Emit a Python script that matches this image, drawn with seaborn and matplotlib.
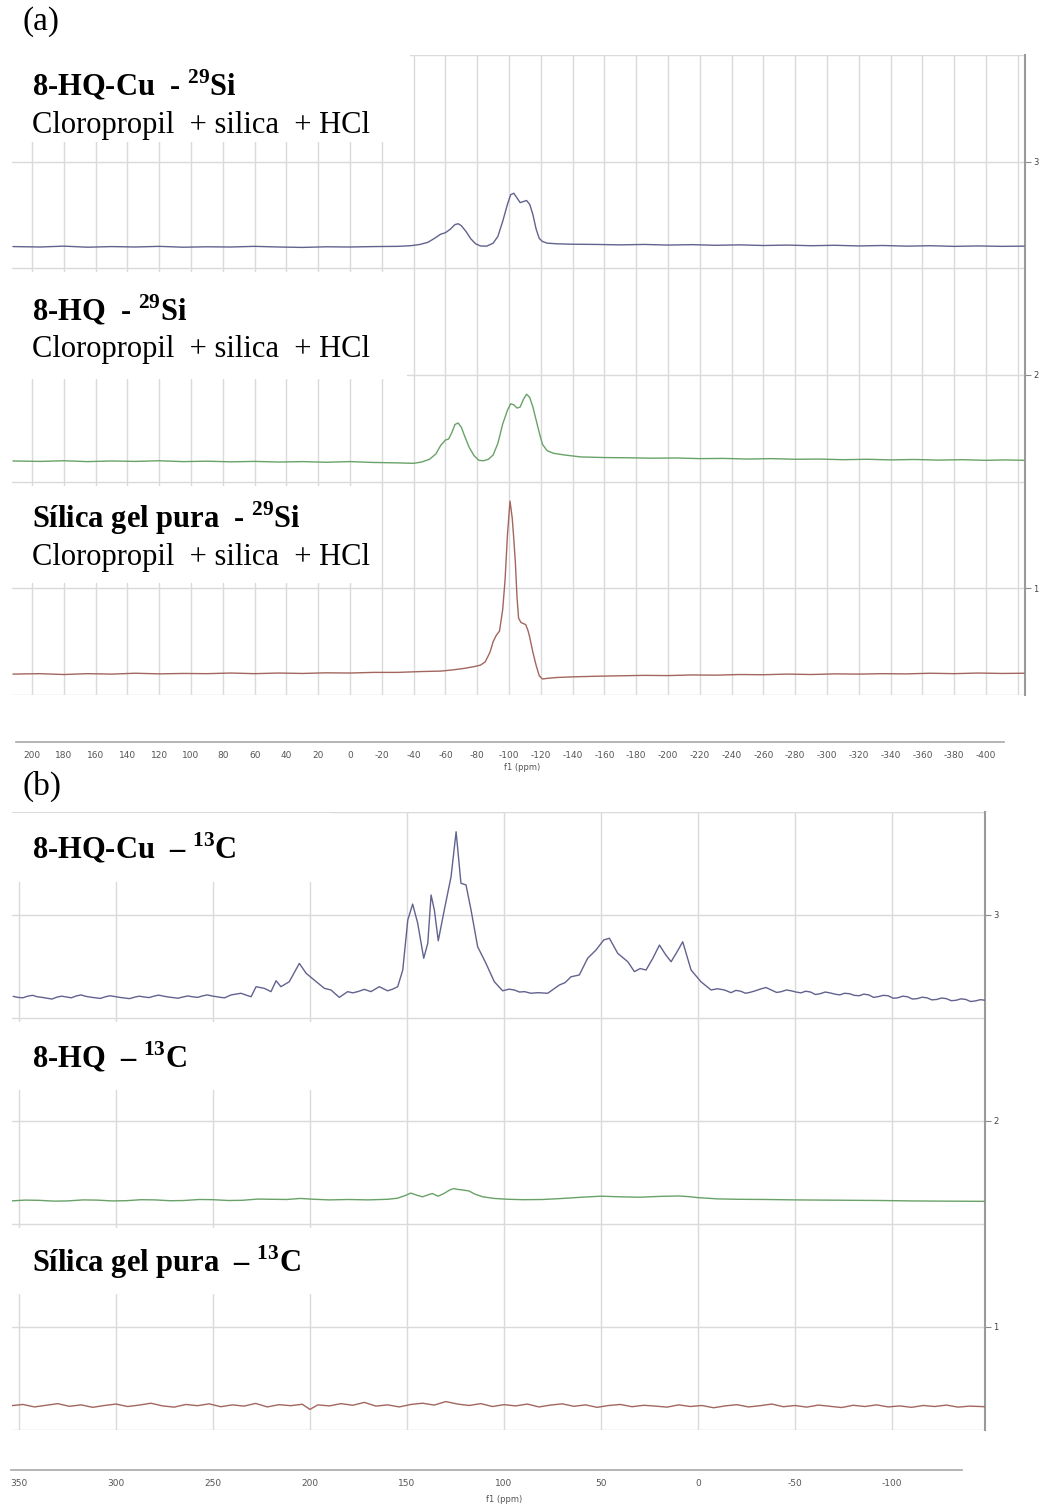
import numpy as np
import pandas as pd
import matplotlib
matplotlib.use("Agg")
import matplotlib.pyplot as plt
import seaborn as sns
from matplotlib.patches import Rectangle
from matplotlib.ticker import FixedLocator

# ---------------------------------------------------------------- data
# 29Si CP-MAS spectra, (ppm, stacked intensity)
SI_CU = [(212, 2.602), (195, 2.600), (180, 2.604), (165, 2.599), (150, 2.602),
         (135, 2.600), (120, 2.603), (105, 2.599), (90, 2.601), (75, 2.600),
         (60, 2.603), (45, 2.600), (30, 2.598), (15, 2.601), (0, 2.600),
         (-15, 2.602), (-30, 2.603), (-38, 2.606), (-44, 2.612), (-49, 2.622),
         (-53, 2.640), (-57, 2.660), (-60, 2.667), (-63, 2.683), (-66, 2.705),
         (-68, 2.709), (-70, 2.700), (-73, 2.672), (-76, 2.638), (-79, 2.615),
         (-82, 2.605), (-86, 2.604), (-90, 2.618), (-93, 2.650), (-96, 2.720),
         (-99, 2.800), (-101, 2.845), (-103, 2.852), (-105, 2.830), (-107, 2.808),
         (-109, 2.813), (-111, 2.818), (-113, 2.800), (-115, 2.752), (-117, 2.685),
         (-119, 2.640), (-121, 2.626), (-124, 2.618), (-130, 2.615), (-140, 2.613),
         (-155, 2.612), (-170, 2.610), (-185, 2.612), (-200, 2.609), (-215, 2.611),
         (-230, 2.608), (-245, 2.610), (-260, 2.607), (-275, 2.609), (-290, 2.606),
         (-305, 2.608), (-320, 2.605), (-335, 2.607), (-350, 2.604), (-365, 2.606),
         (-380, 2.603), (-395, 2.605), (-410, 2.603), (-424, 2.604)]

SI_HQ = [(212, 1.597), (195, 1.595), (180, 1.598), (165, 1.594), (150, 1.597),
         (135, 1.595), (120, 1.598), (105, 1.594), (90, 1.596), (75, 1.593),
         (60, 1.595), (45, 1.592), (30, 1.594), (15, 1.591), (0, 1.594),
         (-15, 1.590), (-30, 1.588), (-40, 1.586), (-45, 1.592), (-50, 1.605),
         (-54, 1.630), (-57, 1.670), (-60, 1.695), (-62, 1.700), (-64, 1.730),
         (-66, 1.768), (-68, 1.775), (-70, 1.755), (-72, 1.715), (-75, 1.660),
         (-78, 1.622), (-81, 1.600), (-84, 1.598), (-87, 1.605), (-90, 1.625),
         (-93, 1.680), (-96, 1.770), (-99, 1.835), (-101, 1.865), (-103, 1.860),
         (-105, 1.845), (-107, 1.850), (-109, 1.885), (-111, 1.910), (-113, 1.895),
         (-115, 1.850), (-117, 1.790), (-119, 1.730), (-121, 1.675), (-124, 1.645),
         (-128, 1.633), (-135, 1.625), (-145, 1.616), (-160, 1.613), (-175, 1.612),
         (-190, 1.610), (-205, 1.611), (-220, 1.608), (-235, 1.609), (-250, 1.606),
         (-265, 1.608), (-280, 1.605), (-295, 1.606), (-310, 1.603), (-325, 1.605),
         (-340, 1.602), (-355, 1.604), (-370, 1.601), (-385, 1.603), (-400, 1.600),
         (-412, 1.602), (-424, 1.600)]

SI_SILICA = [(212, 0.598), (195, 0.600), (180, 0.596), (165, 0.600), (150, 0.598),
             (135, 0.602), (120, 0.599), (105, 0.601), (90, 0.600), (75, 0.603),
             (60, 0.600), (45, 0.603), (30, 0.601), (15, 0.604), (0, 0.603),
             (-15, 0.606), (-30, 0.606), (-45, 0.610), (-57, 0.612), (-65, 0.618),
             (-72, 0.625), (-78, 0.633), (-82, 0.640), (-85, 0.655), (-88, 0.700),
             (-90, 0.750), (-92, 0.780), (-94, 0.800), (-96, 0.900), (-97.5, 1.040),
             (-99, 1.250), (-100.6, 1.409), (-102, 1.330), (-103, 1.230), (-104, 1.118),
             (-105, 0.960), (-106, 0.860), (-107.5, 0.840), (-109, 0.835), (-110.5, 0.830),
             (-112, 0.800), (-113, 0.771), (-115, 0.700), (-117, 0.640), (-119, 0.590),
             (-121, 0.575), (-124, 0.578), (-130, 0.582), (-140, 0.585), (-155, 0.588),
             (-170, 0.590), (-185, 0.592), (-200, 0.591), (-215, 0.594), (-230, 0.593),
             (-245, 0.596), (-260, 0.595), (-275, 0.598), (-290, 0.596), (-305, 0.599),
             (-320, 0.598), (-335, 0.600), (-350, 0.599), (-365, 0.602), (-380, 0.600),
             (-395, 0.603), (-410, 0.601), (-424, 0.602)]

# 13C CP-MAS spectra, (ppm, stacked intensity)
C_CU = [(353, 2.605), (350.5, 2.600), (348, 2.598), (345.5, 2.606), (343, 2.610),
        (340.5, 2.603), (338, 2.600), (335.5, 2.596), (333, 2.592), (330.5, 2.601),
        (328, 2.606), (325.5, 2.602), (323, 2.598), (320.5, 2.607), (318, 2.612),
        (315.5, 2.605), (313, 2.601), (310.5, 2.598), (308, 2.595), (305.5, 2.603),
        (303, 2.608), (300.5, 2.604), (298, 2.600), (295.5, 2.597), (293, 2.594),
        (290.5, 2.601), (288, 2.606), (285.5, 2.602), (283, 2.599), (280.5, 2.606),
        (278, 2.611), (275.5, 2.606), (273, 2.602), (270.5, 2.599), (268, 2.596),
        (265.5, 2.602), (263, 2.607), (260.5, 2.603), (258, 2.600), (255.5, 2.607),
        (253, 2.612), (250.5, 2.607), (248, 2.603), (246, 2.600), (244, 2.598),
        (240.7, 2.612), (235.6, 2.620), (230.4, 2.603), (227.8, 2.652), (223.6, 2.644),
        (220.1, 2.628), (217.5, 2.681), (215, 2.652), (210.7, 2.676), (205.5, 2.765),
        (202, 2.717), (197.8, 2.684), (192.6, 2.644), (189.2, 2.636), (184.9, 2.600),
        (180.6, 2.628), (178, 2.622), (175.4, 2.628), (172, 2.639), (168.6, 2.628),
        (164.3, 2.652), (160, 2.632), (157.4, 2.640), (154.8, 2.652), (152.2, 2.733),
        (149.6, 2.976), (147.1, 3.053), (144.5, 2.960), (141.4, 2.790), (139.3, 2.863),
        (137.6, 3.097), (135.9, 3.024), (133.9, 2.875), (130.8, 3.024), (127.3, 3.186),
        (124.7, 3.404), (122.2, 3.154), (119.6, 3.146), (117, 3.024), (113.6, 2.846),
        (109.3, 2.765), (105, 2.676), (100.7, 2.632), (97.5, 2.640), (94.7, 2.636),
        (92, 2.626), (89.5, 2.628), (86, 2.620), (82.6, 2.623), (77.5, 2.620),
        (74.5, 2.640), (71.5, 2.660), (68.5, 2.672), (65.5, 2.700), (61.2, 2.709),
        (56.9, 2.790), (52.6, 2.830), (48.6, 2.879), (45.7, 2.887), (41.4, 2.814),
        (36.2, 2.773), (32.8, 2.725), (29.8, 2.740), (26.8, 2.733), (23.3, 2.790),
        (19.9, 2.854), (16.9, 2.810), (13.9, 2.773), (10.9, 2.820), (7.9, 2.870),
        (3.6, 2.733), (-1.5, 2.676), (-6.7, 2.636), (-10, 2.642), (-13.6, 2.636),
        (-17, 2.623), (-19.5, 2.634), (-22, 2.630), (-24.5, 2.620), (-27, 2.625),
        (-29.5, 2.632), (-32, 2.640), (-35, 2.648), (-38, 2.635), (-40.5, 2.624),
        (-43, 2.628), (-45.5, 2.636), (-48, 2.632), (-50.5, 2.626), (-53, 2.622),
        (-55.5, 2.630), (-58, 2.626), (-60.5, 2.614), (-63, 2.618), (-65.5, 2.626),
        (-68, 2.622), (-70.5, 2.616), (-73, 2.612), (-75.5, 2.620), (-78, 2.618),
        (-80.5, 2.610), (-83, 2.608), (-85.5, 2.616), (-88, 2.612), (-90.5, 2.600),
        (-93, 2.604), (-95.5, 2.610), (-98, 2.608), (-100.5, 2.596), (-103, 2.598),
        (-105.5, 2.606), (-108, 2.603), (-110.5, 2.592), (-113, 2.594), (-115.5, 2.601),
        (-118, 2.598), (-120.5, 2.588), (-123, 2.590), (-125.5, 2.597), (-128, 2.594),
        (-130.5, 2.584), (-133, 2.586), (-135.5, 2.593), (-138, 2.590), (-140.5, 2.580),
        (-143, 2.583), (-145.5, 2.589), (-148, 2.586)]

C_HQ = [(354, 1.612), (347, 1.616), (340, 1.615), (332, 1.611), (325, 1.612),
        (317, 1.617), (310, 1.616), (302, 1.612), (295, 1.613), (287, 1.618),
        (280, 1.617), (272, 1.613), (265, 1.614), (257, 1.619), (250, 1.618),
        (242, 1.614), (235, 1.615), (227, 1.621), (220, 1.620), (212, 1.619),
        (205, 1.624), (198, 1.620), (190, 1.617), (180, 1.619), (170, 1.617),
        (160, 1.620), (155, 1.625), (151, 1.638), (148, 1.650), (145, 1.640),
        (142, 1.632), (139, 1.642), (137, 1.648), (134, 1.635), (131, 1.648),
        (128, 1.665), (126, 1.672), (124, 1.668), (121, 1.665), (118, 1.660),
        (115, 1.645), (111, 1.632), (105, 1.624), (98, 1.620), (90, 1.618),
        (80, 1.619), (70, 1.624), (60, 1.630), (50, 1.635), (40, 1.632),
        (30, 1.630), (20, 1.634), (10, 1.636), (5, 1.633), (0, 1.628),
        (-10, 1.622), (-20, 1.620), (-35, 1.619), (-50, 1.617), (-65, 1.616),
        (-80, 1.615), (-95, 1.614), (-110, 1.612), (-125, 1.611), (-148, 1.610)]

C_SILICA = [(354, 0.618), (348, 0.624), (342, 0.612), (336, 0.620), (330, 0.628),
            (324, 0.615), (318, 0.622), (312, 0.610), (306, 0.619), (300, 0.626),
            (294, 0.614), (288, 0.621), (282, 0.630), (276, 0.617), (270, 0.611),
            (264, 0.624), (258, 0.618), (252, 0.627), (246, 0.613), (240, 0.622),
            (234, 0.616), (228, 0.629), (222, 0.612), (216, 0.623), (210, 0.618),
            (204, 0.625), (200, 0.600), (196, 0.622), (190, 0.617), (184, 0.628),
            (178, 0.620), (172, 0.634), (166, 0.616), (160, 0.622), (154, 0.612),
            (148, 0.624), (142, 0.630), (136, 0.621), (130, 0.638), (124, 0.626),
            (118, 0.619), (112, 0.628), (106, 0.614), (100, 0.623), (94, 0.617),
            (88, 0.626), (82, 0.612), (76, 0.621), (70, 0.627), (64, 0.615),
            (58, 0.622), (52, 0.610), (46, 0.619), (40, 0.624), (34, 0.613),
            (28, 0.620), (22, 0.616), (16, 0.611), (10, 0.622), (4, 0.614),
            (-2, 0.619), (-8, 0.608), (-14, 0.617), (-20, 0.623), (-26, 0.612),
            (-32, 0.618), (-38, 0.626), (-44, 0.613), (-50, 0.619), (-56, 0.611),
            (-62, 0.621), (-68, 0.615), (-74, 0.609), (-80, 0.620), (-86, 0.614),
            (-92, 0.622), (-98, 0.612), (-104, 0.617), (-110, 0.610), (-116, 0.619),
            (-122, 0.614), (-128, 0.621), (-134, 0.611), (-140, 0.616), (-148, 0.613)]

SI_TITLES = ["8-HQ-Cu  - $^{\\mathbf{29}}$Si", "8-HQ  - $^{\\mathbf{29}}$Si",
             "Sílica gel pura  - $^{\\mathbf{29}}$Si"]
SI_SUBTITLE = "Cloropropil  + silica  + HCl"
C_TITLES = ["8-HQ-Cu  – $^{\\mathbf{13}}$C", "8-HQ  – $^{\\mathbf{13}}$C",
            "Sílica gel pura  – $^{\\mathbf{13}}$C"]
TRACE_COLORS = ["#62628f", "#68a268", "#a2665f"]
STACK_TICKS = [1, 2, 3]

# ---------------------------------------------------------------- figure
sns.set_theme(style="white")
plt.rcParams["font.family"] = ["DejaVu Sans"]
plt.rcParams["axes.unicode_minus"] = False
plt.rcParams["mathtext.fontset"] = "custom"
plt.rcParams["mathtext.rm"] = "Liberation Serif"
plt.rcParams["mathtext.bf"] = "Liberation Serif:bold"

W, H = 1043, 1508
fig = plt.figure(figsize=(W / 100, H / 100), dpi=100)


def px_box(left, top, right, bottom):
    return [left / W, 1 - bottom / H, (right - left) / W, (bottom - top) / H]


ax_a = fig.add_axes(px_box(12, 55, 1025, 695))
ax_b = fig.add_axes(px_box(12, 812, 985, 1430))

GRID = "#dadada"
TICK_COL = "#8a8a8a"
LABEL_COL = "#555555"


def draw_spectrum(ax, pairs, color):
    df = pd.DataFrame(pairs, columns=["ppm", "intensity"])
    sns.lineplot(data=df, x="ppm", y="intensity", ax=ax, color=color,
                 linewidth=1.0, estimator=None, sort=False, zorder=3)


def style_axes(ax, xlim, major, minor, bounds, grid_x, outward):
    ax.set_xlim(*xlim)
    ax.set_ylim(0.5, 3.5)
    ax.set_xlabel("")
    ax.set_ylabel("")
    for x in grid_x:
        ax.axvline(x, color=GRID, lw=1.0, zorder=1)
    for y in np.arange(0.5, 3.51, 0.5):
        ax.axhline(y, color=GRID, lw=1.0, zorder=1)
    ax.xaxis.set_major_locator(FixedLocator(major))
    ax.xaxis.set_minor_locator(FixedLocator(minor))
    ax.yaxis.set_major_locator(FixedLocator(STACK_TICKS))
    ax.yaxis.tick_right()
    ax.tick_params(axis="x", which="major", direction="inout", length=5,
                   width=0.8, color=TICK_COL, labelsize=6.5,
                   labelcolor=LABEL_COL, pad=4)
    ax.tick_params(axis="x", which="minor", direction="inout", length=3,
                   width=0.8, color=TICK_COL)
    ax.tick_params(axis="y", which="major", direction="out", length=4,
                   width=0.8, color=TICK_COL, labelsize=6,
                   labelcolor="#444444", pad=2, right=True, left=False)
    for s in ("left", "top"):
        ax.spines[s].set_visible(False)
    ax.spines["right"].set_color("#9a9a9a")
    ax.spines["right"].set_linewidth(1.5)
    ax.spines["bottom"].set_position(("outward", outward))
    ax.spines["bottom"].set_bounds(*bounds)
    ax.spines["bottom"].set_color("#a8a8a8")
    ax.spines["bottom"].set_linewidth(1.2)
    ax.grid(False)


for pairs, col in zip([SI_CU, SI_HQ, SI_SILICA], TRACE_COLORS):
    draw_spectrum(ax_a, pairs, col)
for pairs, col in zip([C_CU, C_HQ, C_SILICA], TRACE_COLORS):
    draw_spectrum(ax_b, pairs, col)

style_axes(ax_a, (212.6, -424.5),
           major=np.arange(200, -401, -20), minor=np.arange(210, -411, -20),
           bounds=(210, -411), grid_x=np.arange(200, -421, -20), outward=34)
style_axes(ax_b, (353.6, -147.9),
           major=np.arange(350, -101, -50), minor=np.arange(325, -126, -50),
           bounds=(354, -136), grid_x=np.arange(350, -101, -50), outward=29)

# white label panels over the grid
for (l, t, r, b) in [(12, 55, 410, 142), (12, 272, 407, 379), (12, 486, 376, 583),
                     (12, 813, 330, 882), (12, 1022, 330, 1090), (12, 1228, 330, 1294)]:
    x0, y0, w, h = px_box(l, t, r, b)
    fig.add_artist(Rectangle((x0, y0), w, h, transform=fig.transFigure,
                             facecolor="white", edgecolor="none", zorder=2))


def ftext(x, y, s, **kw):
    fig.text(x / W, 1 - y / H, s, zorder=4, **kw)


serif = ["Liberation Serif", "DejaVu Serif"]
ftext(22, 22, "(a)", fontsize=24, family=serif, color="black", va="center", ha="left")
ftext(22, 786, "(b)", fontsize=24, family=serif, color="black", va="center", ha="left")

for title, yt, ys in zip(SI_TITLES, [85, 310, 518], [125, 350, 557]):
    ftext(32, yt, title, fontsize=22, family=serif, fontweight="bold",
          color="black", va="center", ha="left")
    ftext(32, ys, SI_SUBTITLE, fontsize=22, family=serif, color="black",
          va="center", ha="left")

for title, yt in zip(C_TITLES, [848, 1057, 1262]):
    ftext(32, yt, title, fontsize=22, family=serif, fontweight="bold",
          color="black", va="center", ha="left")

ftext(522, 768, "f1 (ppm)", fontsize=6, color=LABEL_COL, va="center", ha="center")
ftext(504, 1499, "f1 (ppm)", fontsize=6, color=LABEL_COL, va="center", ha="center")

fig.savefig("out.png", dpi=100, facecolor="white")
